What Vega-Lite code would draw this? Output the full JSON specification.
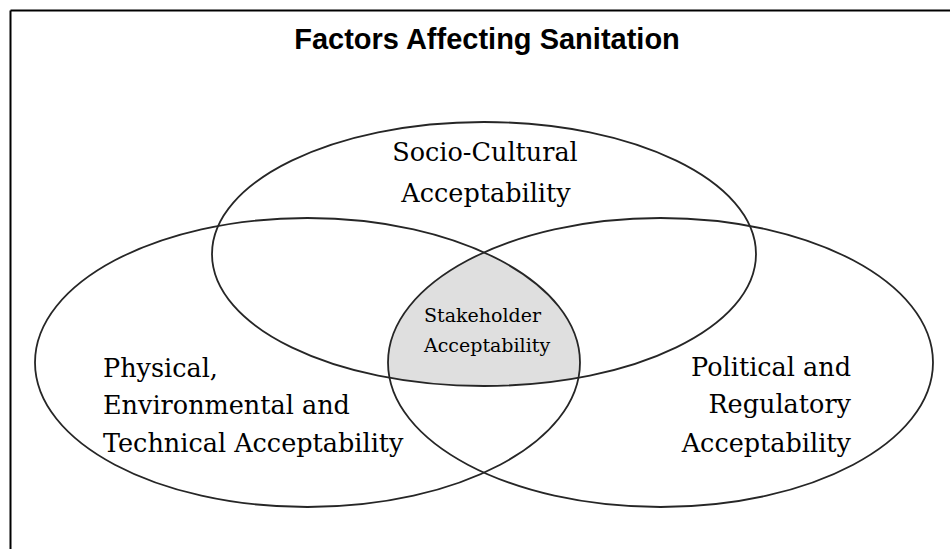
{
  "$schema": "https://vega.github.io/schema/vega-lite/v6.json",
  "width": 950,
  "height": 549,
  "padding": 0,
  "autosize": {"type": "none"},
  "background": "white",
  "config": {"view": {"stroke": null}},
  "datasets": {
    "border": [
      {"x": 10.5, "y": 10.5, "x2": 950, "y2": 10.5},
      {"x": 10.5, "y": 10.5, "x2": 10.5, "y2": 549}
    ],
    "ellipses": [
      {"circle": "Socio-Cultural", "cx": 484, "cy": 254},
      {"circle": "Physical", "cx": 307.5, "cy": 362.5},
      {"circle": "Political", "cx": 660.5, "cy": 362.5}
    ],
    "core": [
      {"circle": "Stakeholder", "cx": 484, "cy": 254}
    ],
    "labels": [
      {"group": "title", "label": "Factors Affecting Sanitation", "x": 487, "y": 49},
      {"group": "top", "label": "Socio-Cultural", "x": 485, "y": 161},
      {"group": "top", "label": "Acceptability", "x": 486, "y": 202},
      {"group": "left", "label": "Physical,", "x": 103, "y": 377},
      {"group": "left", "label": "Environmental and", "x": 103, "y": 414},
      {"group": "left", "label": "Technical Acceptability", "x": 103, "y": 452},
      {"group": "right", "label": "Political and", "x": 851, "y": 376},
      {"group": "right", "label": "Regulatory", "x": 851, "y": 413},
      {"group": "right", "label": "Acceptability", "x": 851, "y": 452},
      {"group": "core", "label": "Stakeholder", "x": 424, "y": 322},
      {"group": "core", "label": "Acceptability", "x": 424, "y": 352}
    ]
  },
  "layer": [
    {
      "data": {"name": "core"},
      "mark": {
        "type": "point",
        "shape": "M 0 -1.6 A 272.5 144.5 0 0 0 -94.5 123.8 A 272 132 0 0 0 94.5 123.8 A 272.5 144.5 0 0 0 0 -1.6 Z",
        "size": 4,
        "filled": true,
        "fill": "#dfdfdf",
        "strokeWidth": 0,
        "opacity": 1
      },
      "encoding": {
        "x": {"field": "cx", "type": "quantitative", "scale": {"domain": [0, 950]}, "axis": null},
        "y": {"field": "cy", "type": "quantitative", "scale": {"domain": [0, 549], "reverse": true}, "axis": null}
      }
    },
    {
      "data": {"name": "ellipses"},
      "mark": {
        "type": "point",
        "size": 4,
        "filled": false,
        "fill": null,
        "stroke": "#262626",
        "strokeWidth": 1.8,
        "opacity": 1
      },
      "encoding": {
        "x": {"field": "cx", "type": "quantitative", "scale": {"domain": [0, 950]}, "axis": null},
        "y": {"field": "cy", "type": "quantitative", "scale": {"domain": [0, 549], "reverse": true}, "axis": null},
        "shape": {
          "field": "circle",
          "type": "nominal",
          "legend": null,
          "scale": {
            "domain": ["Socio-Cultural", "Physical", "Political"],
            "range": [
              "M -272 0 A 272 132 0 1 0 272 0 A 272 132 0 1 0 -272 0 Z",
              "M -272.5 0 A 272.5 144.5 0 1 0 272.5 0 A 272.5 144.5 0 1 0 -272.5 0 Z",
              "M -272.5 0 A 272.5 144.5 0 1 0 272.5 0 A 272.5 144.5 0 1 0 -272.5 0 Z"
            ]
          }
        }
      }
    },
    {
      "data": {"name": "border"},
      "mark": {"type": "rule", "color": "black", "strokeWidth": 2},
      "encoding": {
        "x": {"field": "x", "type": "quantitative", "scale": {"domain": [0, 950]}, "axis": null},
        "y": {"field": "y", "type": "quantitative", "scale": {"domain": [0, 549], "reverse": true}, "axis": null},
        "x2": {"field": "x2"},
        "y2": {"field": "y2"}
      }
    },
    {
      "data": {"name": "labels"},
      "transform": [{"filter": "datum.group === 'title'"}],
      "mark": {"type": "text", "font": "Liberation Sans", "fontSize": 29, "fontWeight": "bold", "align": "center", "baseline": "alphabetic", "color": "black"},
      "encoding": {
        "x": {"field": "x", "type": "quantitative", "scale": {"domain": [0, 950]}, "axis": null},
        "y": {"field": "y", "type": "quantitative", "scale": {"domain": [0, 549], "reverse": true}, "axis": null},
        "text": {"field": "label"}
      }
    },
    {
      "data": {"name": "labels"},
      "transform": [{"filter": "datum.group === 'top'"}],
      "mark": {"type": "text", "font": "DejaVu Serif", "fontSize": 25.5, "align": "center", "baseline": "alphabetic", "color": "black"},
      "encoding": {
        "x": {"field": "x", "type": "quantitative", "scale": {"domain": [0, 950]}, "axis": null},
        "y": {"field": "y", "type": "quantitative", "scale": {"domain": [0, 549], "reverse": true}, "axis": null},
        "text": {"field": "label"}
      }
    },
    {
      "data": {"name": "labels"},
      "transform": [{"filter": "datum.group === 'left'"}],
      "mark": {"type": "text", "font": "DejaVu Serif", "fontSize": 25.5, "align": "left", "baseline": "alphabetic", "color": "black"},
      "encoding": {
        "x": {"field": "x", "type": "quantitative", "scale": {"domain": [0, 950]}, "axis": null},
        "y": {"field": "y", "type": "quantitative", "scale": {"domain": [0, 549], "reverse": true}, "axis": null},
        "text": {"field": "label"}
      }
    },
    {
      "data": {"name": "labels"},
      "transform": [{"filter": "datum.group === 'right'"}],
      "mark": {"type": "text", "font": "DejaVu Serif", "fontSize": 25.5, "align": "right", "baseline": "alphabetic", "color": "black"},
      "encoding": {
        "x": {"field": "x", "type": "quantitative", "scale": {"domain": [0, 950]}, "axis": null},
        "y": {"field": "y", "type": "quantitative", "scale": {"domain": [0, 549], "reverse": true}, "axis": null},
        "text": {"field": "label"}
      }
    },
    {
      "data": {"name": "labels"},
      "transform": [{"filter": "datum.group === 'core'"}],
      "mark": {"type": "text", "font": "DejaVu Serif", "fontSize": 19, "align": "left", "baseline": "alphabetic", "color": "black"},
      "encoding": {
        "x": {"field": "x", "type": "quantitative", "scale": {"domain": [0, 950]}, "axis": null},
        "y": {"field": "y", "type": "quantitative", "scale": {"domain": [0, 549], "reverse": true}, "axis": null},
        "text": {"field": "label"}
      }
    }
  ]
}
